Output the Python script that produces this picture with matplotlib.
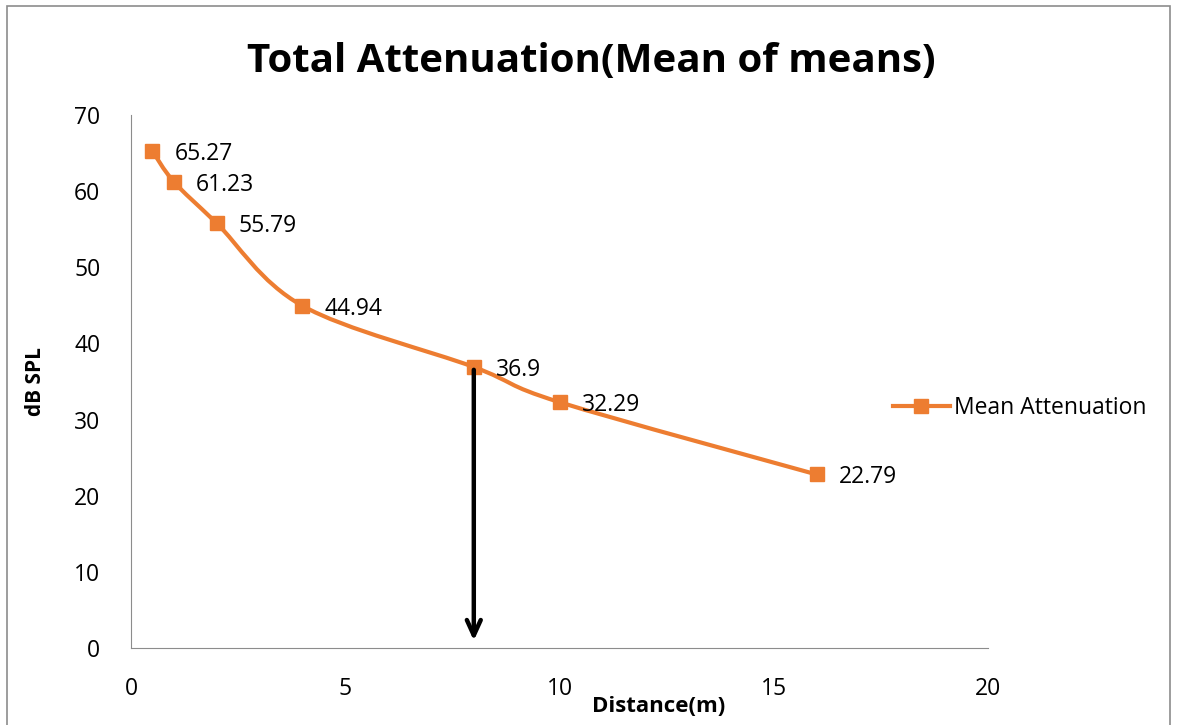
import matplotlib.pyplot as plt
from matplotlib.path import Path
from matplotlib.patches import PathPatch, Rectangle

plt.rcParams['font.family'] = ['Open Sans', 'DejaVu Sans']

distance = [0.5, 1, 2, 4, 8, 10, 16]
mean_att = [65.27, 61.23, 55.79, 44.94, 36.9, 32.29, 22.79]
orange = '#ED7D31'


def smooth_path(xs, ys):
    # bezier segments with catmull-rom style handles, like a spreadsheet "smoothed line"
    pts = list(zip(xs, ys))
    verts = [pts[0]]
    codes = [Path.MOVETO]
    n = len(pts)
    for i in range(n - 1):
        p0 = pts[i - 1] if i > 0 else pts[i]
        p1 = pts[i]
        p2 = pts[i + 1]
        p3 = pts[i + 2] if i + 2 < n else pts[i + 1]
        c1 = (p1[0] + (p2[0] - p0[0]) / 6, p1[1] + (p2[1] - p0[1]) / 6)
        c2 = (p2[0] - (p3[0] - p1[0]) / 6, p2[1] - (p3[1] - p1[1]) / 6)
        verts += [c1, c2, p2]
        codes += [Path.CURVE4] * 3
    return Path(verts, codes)


fig = plt.figure(figsize=(11.78, 7.25), dpi=100)
fig.patches.append(Rectangle((7 / 1178, -0.05), 1163 / 1178, 1.05 - 6 / 725,
                             transform=fig.transFigure, fill=False,
                             edgecolor='#8c8c8c', lw=1.2))
ax = fig.add_axes([131 / 1178, 1 - 648 / 725, 857 / 1178, 533 / 725])

ax.add_patch(PathPatch(smooth_path(distance, mean_att), fill=False,
                       edgecolor=orange, lw=3, zorder=3))
ax.plot(distance, mean_att, ls='none', marker='s', ms=10, color=orange, zorder=4)
line_handle, = ax.plot([], [], color=orange, lw=3, marker='s', ms=10)

for x, y in zip(distance, mean_att):
    ax.annotate(f'{y:g}', (x, y), xytext=(16, -2), textcoords='offset points',
                va='center', ha='left', fontsize=16.5)

ax.annotate('', xy=(8, 0.6), xytext=(8, 36.9),
            arrowprops=dict(arrowstyle='->,head_length=1.1,head_width=0.5',
                            color='black', lw=3.2), zorder=5)

ax.set_xlim(0, 20)
ax.set_ylim(0, 70)
ax.set_xticks(range(0, 21, 5))
ax.set_yticks(range(0, 71, 10))
ax.tick_params(length=0, labelsize=16.5, pad=21)
ax.tick_params(axis='y', pad=22)
for s in ['top', 'right']:
    ax.spines[s].set_visible(False)
for s in ['left', 'bottom']:
    ax.spines[s].set_color('#8c8c8c')

ax.set_ylabel('dB SPL', fontsize=15, fontweight='bold', labelpad=20)
fig.text(659 / 1178, 1 - 707 / 725, 'Distance(m)', fontsize=16, fontweight='bold',
         ha='center', va='center')
fig.text(591 / 1178, 1 - 61 / 725, 'Total Attenuation(Mean of means)', fontsize=29,
         fontweight='bold', ha='center', va='center')

fig.legend([line_handle], ['Mean Attenuation'], loc='center left',
           bbox_to_anchor=(872 / 1178, 1 - 408 / 725), frameon=False,
           fontsize=16.5, handlelength=2.5, handletextpad=0.2)

fig.savefig('out.png', dpi=100)
